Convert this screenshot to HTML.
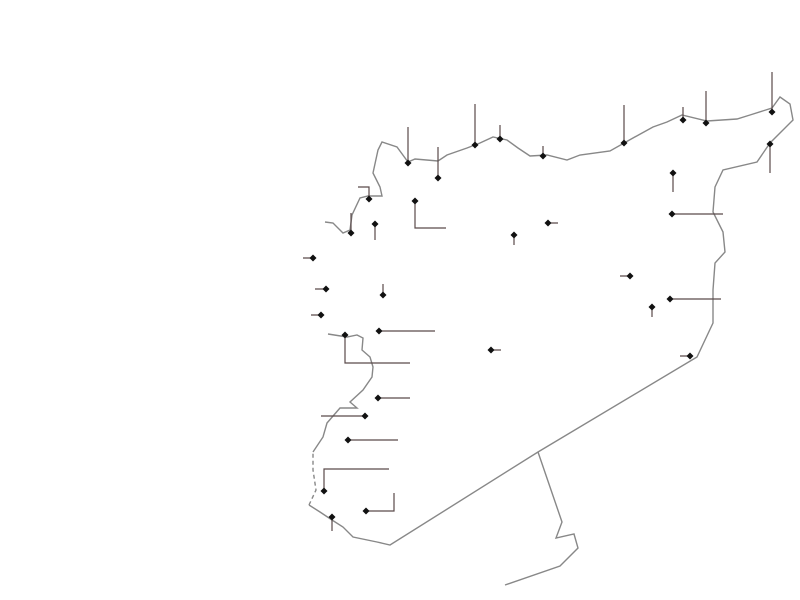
<!DOCTYPE html>
<html><head><meta charset="utf-8"><style>html,body{margin:0;padding:0;background:#fff;}svg{display:block}</style></head>
<body>
<svg width="800" height="600" viewBox="0 0 800 600" xmlns="http://www.w3.org/2000/svg">
<defs><path id="d" d="M0,-3.5 L3.5,0 L0,3.5 L-3.5,0 Z" fill="#111"/></defs>
<g fill="none" stroke="#888" stroke-width="1.4">
<path d="M325,222 L333,223 L343,233 L350,230 L352,215 L360,198 L368,196 L382,196 L380,187 L373,173 L378,150 L382,142 L397,147 L408,162 L415,159 L438,161 L447,155 L467,148 L480,143 L493,137 L507,140 L518,148 L530,156 L547,155 L567,160 L580,155 L610,151 L633,138 L653,127 L667,122 L682,115 L707,121 L737,119 L750,115 L772,108 L780,97 L790,104 L793,120 L770,143 L757,162 L723,170 L715,187 L713,212 L723,232 L725,252 L715,263 L713,290 L713,323 L697,357 L538,452 L390,545 L377,542 L353,537 L343,527 L332,520 L320,512 L309,505"/>
<path d="M309,505 L316,490 L313,470 L313,452" stroke-dasharray="4,3"/>
<path d="M313,452 L323,437 L327,423 L340,408 L357,408 L350,402 L363,390 L372,377 L373,367 L370,357 L362,350 L363,338 L357,335 L347,337 L328,334"/>
<path d="M538,452 L562,522 L556,538 L574,534 L578,548 L560,566 L505,585"/>
</g>
<g fill="none" stroke="#5a4a4a" stroke-width="1.2">
<path d="M408,163V127 M438,178V147 M475,145V104 M500,139V125 M543,156V146 M624,143V105 M683,120V107 M706,123V91 M772,112V72 M770,144V173 M673,173V192 M672,214H723 M369,199V187H358 M351,233V213 M375,224V240 M415,201V228H446 M514,235V245 M548,223H558 M313,258H303 M326,289H315 M383,295V284 M321,315H311 M379,331H435 M345,335V363H410 M491,350H501 M630,276H620 M670,299H721 M652,307V317 M690,356H680 M378,398H410 M365,416H321 M348,440H398 M324,491V469H389 M366,511H394V493 M332,517V531"/>
</g>
<g>
<use href="#d" x="408" y="163"/><use href="#d" x="438" y="178"/><use href="#d" x="475" y="145"/><use href="#d" x="500" y="139"/><use href="#d" x="543" y="156"/><use href="#d" x="624" y="143"/><use href="#d" x="683" y="120"/><use href="#d" x="706" y="123"/><use href="#d" x="772" y="112"/><use href="#d" x="770" y="144"/><use href="#d" x="673" y="173"/><use href="#d" x="672" y="214"/><use href="#d" x="369" y="199"/><use href="#d" x="351" y="233"/><use href="#d" x="375" y="224"/><use href="#d" x="415" y="201"/><use href="#d" x="514" y="235"/><use href="#d" x="548" y="223"/><use href="#d" x="313" y="258"/><use href="#d" x="326" y="289"/><use href="#d" x="383" y="295"/><use href="#d" x="321" y="315"/><use href="#d" x="379" y="331"/><use href="#d" x="345" y="335"/><use href="#d" x="491" y="350"/><use href="#d" x="630" y="276"/><use href="#d" x="670" y="299"/><use href="#d" x="652" y="307"/><use href="#d" x="690" y="356"/><use href="#d" x="378" y="398"/><use href="#d" x="365" y="416"/><use href="#d" x="348" y="440"/><use href="#d" x="324" y="491"/><use href="#d" x="366" y="511"/><use href="#d" x="332" y="517"/>
</g>
</svg>
</body></html>
